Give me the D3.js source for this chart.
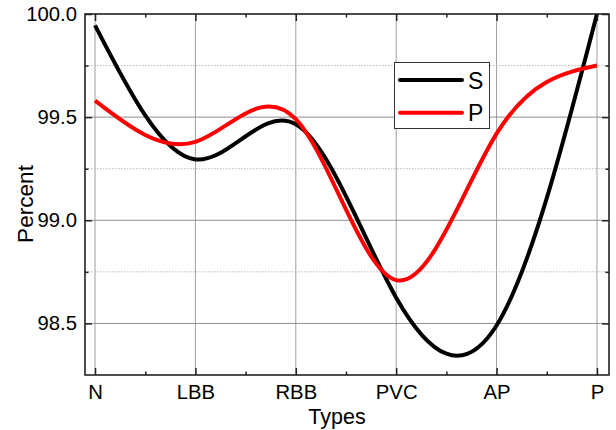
<!DOCTYPE html>
<html>
<head>
<meta charset="utf-8">
<script src="https://cdn.jsdelivr.net/npm/d3@7"></script>
<style>
  html, body { margin: 0; padding: 0; background: #fff; }
  svg { display: block; font-family: "Liberation Sans", Arial, sans-serif; }
</style>
</head>
<body>
<svg id="chart" width="616" height="430"></svg>
<script>
// Recognition percentage per beat type
const categories = ["N", "LBB", "RBB", "PVC", "AP", "P"];
const seriesS = [99.945, 99.295, 99.465, 98.625, 98.49, 100.0];
const seriesP = [99.58, 99.38, 99.49, 98.71, 99.42, 99.75];
const seriesNames = ["S", "P"];
const seriesColors = ["#000000", "#ff0000"];
const yMajorTicks = [98.5, 99.0, 99.5, 100.0];
const yMinorTicks = [98.75, 99.25, 99.75];

const svg = d3.select("#chart");
const plot = { left: 85, top: 14, right: 609, bottom: 375 };

const x = d3.scaleLinear()
  .domain([-0.1, 5.12])
  .range([plot.left, plot.right]);
const y = d3.scaleLinear()
  .domain([98.25, 100.0])
  .range([plot.bottom, plot.top]);

const idx = categories.map((_, i) => i);
const xMinor = idx.slice(0, -1).map(i => i + 0.5);

// grid
const grid = svg.append("g");
grid.selectAll(".vg").data(idx).join("line")
  .attr("x1", d => x(d)).attr("x2", d => x(d))
  .attr("y1", plot.top).attr("y2", plot.bottom)
  .attr("stroke", "#a0a0a0").attr("stroke-width", 1);
grid.selectAll(".hg").data(yMajorTicks.filter(v => v < 100)).join("line")
  .attr("x1", plot.left).attr("x2", plot.right)
  .attr("y1", d => y(d)).attr("y2", d => y(d))
  .attr("stroke", "#909090").attr("stroke-width", 1);
grid.selectAll(".hm").data(yMinorTicks).join("line")
  .attr("x1", plot.left).attr("x2", plot.right)
  .attr("y1", d => y(d)).attr("y2", d => y(d))
  .attr("stroke", "#b8b8b8").attr("stroke-width", 1)
  .attr("stroke-dasharray", "1.5,1.5");

// curves
const line = d3.line()
  .x((d, i) => x(i))
  .y(d => y(d))
  .curve(d3.curveNatural);

[seriesS, seriesP].forEach((vals, k) => {
  svg.append("path")
    .datum(vals)
    .attr("d", line)
    .attr("fill", "none")
    .attr("stroke", seriesColors[k])
    .attr("stroke-width", 4)
    .attr("stroke-linejoin", "round");
});

// axes (ticks pointing inward on all four sides)
const fontTick = "20.3px";
const bottomAxis = d3.axisBottom(x).tickValues(idx)
  .tickFormat(i => categories[i]).tickSizeInner(-7).tickSizeOuter(0).tickPadding(9.5);
const gB = svg.append("g").attr("transform", `translate(0,${plot.bottom})`).call(bottomAxis);
const gBm = svg.append("g").attr("transform", `translate(0,${plot.bottom})`)
  .call(d3.axisBottom(x).tickValues(xMinor).tickFormat("").tickSizeInner(-3.5).tickSizeOuter(0));

const topAxis = d3.axisTop(x).tickValues(idx).tickFormat("").tickSizeInner(-7).tickSizeOuter(0);
const gT = svg.append("g").attr("transform", `translate(0,${plot.top})`).call(topAxis);
const gTm = svg.append("g").attr("transform", `translate(0,${plot.top})`)
  .call(d3.axisTop(x).tickValues(xMinor).tickFormat("").tickSizeInner(-3.5).tickSizeOuter(0));

const leftAxis = d3.axisLeft(y).tickValues(yMajorTicks)
  .tickFormat(d3.format(".1f")).tickSizeInner(-7).tickSizeOuter(0).tickPadding(8);
const gL = svg.append("g").attr("transform", `translate(${plot.left},0)`).call(leftAxis);
const gLm = svg.append("g").attr("transform", `translate(${plot.left},0)`)
  .call(d3.axisLeft(y).tickValues(yMinorTicks).tickFormat("").tickSizeInner(-3.5).tickSizeOuter(0));

const rightAxis = d3.axisRight(y).tickValues(yMajorTicks).tickFormat("").tickSizeInner(-7).tickSizeOuter(0);
const gR = svg.append("g").attr("transform", `translate(${plot.right},0)`).call(rightAxis);
const gRm = svg.append("g").attr("transform", `translate(${plot.right},0)`)
  .call(d3.axisRight(y).tickValues(yMinorTicks).tickFormat("").tickSizeInner(-3.5).tickSizeOuter(0));

[gB, gBm, gT, gTm, gL, gLm, gR, gRm].forEach(g => {
  g.select(".domain").remove();
  g.selectAll(".tick line").attr("stroke", "#222").attr("stroke-width", 1.5);
  g.selectAll("text").attr("font-size", fontTick).attr("fill", "#000")
    .attr("font-family", "Liberation Sans, Arial, sans-serif");
});

// frame
svg.append("rect")
  .attr("x", plot.left).attr("y", plot.top)
  .attr("width", plot.right - plot.left).attr("height", plot.bottom - plot.top)
  .attr("fill", "none").attr("stroke", "#222").attr("stroke-width", 1.6);

// axis titles
svg.append("text")
  .attr("x", 337).attr("y", 423.5)
  .attr("text-anchor", "middle").attr("font-size", "21.5px").text("Types");
svg.append("text")
  .attr("transform", `translate(33,204) rotate(-90)`)
  .attr("text-anchor", "middle").attr("font-size", "22.6px").text("Percent");

// legend
const lg = svg.append("g");
lg.append("rect")
  .attr("x", 394.5).attr("y", 62.5).attr("width", 95).attr("height", 66)
  .attr("fill", "#fff").attr("stroke", "#333").attr("stroke-width", 1);
seriesNames.forEach((name, k) => {
  const yy = 80 + k * 32.7;
  lg.append("line")
    .attr("x1", 400).attr("x2", 462).attr("y1", yy).attr("y2", yy)
    .attr("stroke", seriesColors[k]).attr("stroke-width", 4).attr("stroke-linecap", "round");
  lg.append("text")
    .attr("x", 468).attr("y", yy + 8.5)
    .attr("font-size", "23px").text(name);
});
</script>
</body>
</html>
